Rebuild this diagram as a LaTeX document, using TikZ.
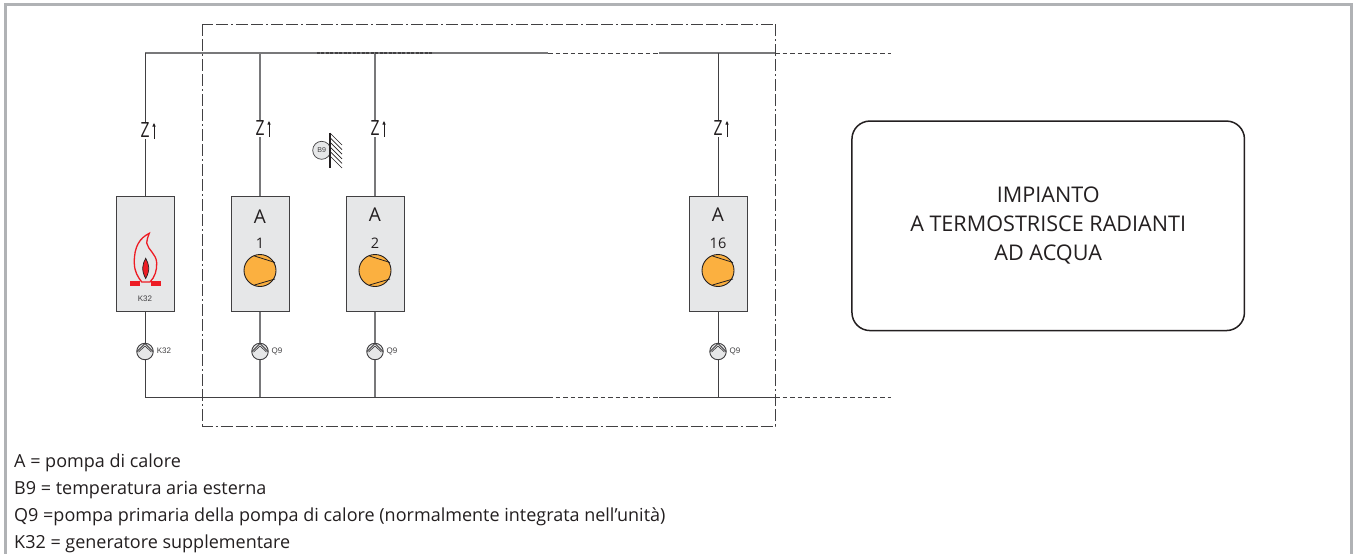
\documentclass[tikz,border=0pt]{standalone}
\usepackage{fontspec}
\setmainfont{Open Sans}
\newfontfamily\tagfont{Liberation Sans}
\usetikzlibrary{positioning,calc,arrows.meta}
\definecolor{framegray}{RGB}{176,178,181}
\definecolor{unitgray}{RGB}{230,231,232}
\definecolor{pumporange}{RGB}{251,176,64}
\definecolor{flamered}{RGB}{237,28,36}
\definecolor{linegray}{RGB}{65,64,66}
\definecolor{midgray}{RGB}{120,120,122}
\definecolor{textdark}{RGB}{35,31,32}
\tikzset{
  unit/.style={draw=linegray,fill=unitgray,line width=1pt,minimum width=58pt,minimum height=115pt,inner sep=0pt},
  pump/.style={draw=linegray,fill=unitgray,circle,line width=0.9pt,minimum size=16.5pt,inner sep=0pt},
  fan/.style={draw=textdark,fill=pumporange,circle,line width=0.9pt,minimum size=32pt,inner sep=0pt},
  pipe/.style={draw=linegray,line width=1pt},
  pipelight/.style={draw=midgray,line width=1.3pt},
  tag/.style={font=\tagfont\fontsize{8}{9}\selectfont,text=linegray,inner sep=0pt},
  legend/.style={font=\fontsize{18}{20}\selectfont,text=textdark,anchor=base west,inner sep=0pt},
  bigtext/.style={font=\fontsize{21.6}{29}\selectfont,text=textdark,align=center,inner sep=0pt}
}
\begin{document}
\begin{tikzpicture}[x=1pt,y=-1pt,node distance=115pt,on grid]
  \useasboundingbox (0,0) rectangle (1355,554);
  \fill[white] (0,0) rectangle (1355,554);
  \draw[framegray,line width=3pt] (5.8,560) -- (5.8,4.3) -- (1351.5,4.3) -- (1351.5,560);

  % units
  \node[unit] (k_32) at (145,253.5) {};
  \node[unit] (a_1) [right=of k_32] {};
  \node[unit] (a_2) [right=of a_1] {};
  \node[unit] (a_16) [right=343pt of a_2] {};

  % junctions
  \coordinate (top_k) at (145,53);
  \coordinate (top_1) at (260,53);
  \coordinate (top_2) at (375,53);
  \coordinate (top_16) at (718,53);
  \coordinate (bot_k) at (145,397);
  \coordinate (bot_1) at (260,397);
  \coordinate (bot_2) at (375,397);
  \coordinate (bot_16) at (718,397);
  \coordinate (top_gap) at (548,53);
  \coordinate (top_on) at (659,53);
  \coordinate (top_end) at (775,53);
  \coordinate (top_free) at (891,53);
  \coordinate (bot_gap) at (548,397);
  \coordinate (bot_on) at (659,397);
  \coordinate (bot_end) at (775,397);
  \coordinate (bot_free) at (891,397);
  \coordinate (dash_a) at (316.5,53);
  \coordinate (dash_b) at (432,53);

  % pumps
  \node[pump] (q_k) at (145,351.5) {};
  \node[pump] (q_1) at (260,351.5) {};
  \node[pump] (q_2) at (375,351.5) {};
  \node[pump] (q_16) at (718,351.5) {};

  \path[pipelight]
  (top_1) edge (a_1)
  (top_2) edge (a_2)
  (a_1) edge (q_1)
  (a_2) edge (q_2)
  (q_1) edge (bot_1)
  (q_2) edge (bot_2)
  (top_k) edge (top_gap)
  (top_on) edge (top_end)
  ;
  \path[pipe]
  (top_k) edge (k_32)
  (top_16) edge (a_16)
  (k_32) edge (q_k)
  (a_16) edge (q_16)
  (q_k) edge (bot_k)
  (q_16) edge (bot_16)
  (bot_k) edge (bot_gap)
  (bot_on) edge (bot_end)
  ;
  \path[pipe,dash pattern=on 4.5pt off 3pt]
  (top_gap) edge (top_on)
  (top_end) edge (top_free)
  (bot_gap) edge (bot_on)
  (bot_end) edge (bot_free)
  ;
  \path[pipe,line width=1.2pt,dash pattern=on 3pt off 1.5pt] (dash_a) edge (dash_b);

  % zone
  \draw[linegray,line width=1pt,dash pattern=on 12pt off 3pt on 12pt off 3pt on 2pt off 3pt] (202.5,24) rectangle (775.5,426);

  % impedance marks
  \foreach \x/\y/\nm in {145/130.5/k,260/128.5/1,375/128.5/2,718/128.5/16} {
    \node[fill=white,inner sep=0pt,minimum width=9pt,minimum height=16pt,font=\fontsize{21}{21}\selectfont,text=textdark] (z_\nm) at (\x,\y) {\scalebox{0.75}[1]{Z}};
    \draw[-{Latex[length=4pt,width=3.5pt]},textdark,line width=0.8pt] ($(z_\nm)+(9,8)$) -- ($(z_\nm)+(9,-8)$);
  }

  % unit contents
  \foreach \nm/\num/\ay in {1/1/21,2/2/19,16/16/19} {
    \node[font=\fontsize{19}{19}\selectfont,text=textdark,inner sep=0pt] (la_\nm) at ($(a_\nm.north)+(0,\ay)$) {A};
    \node[font=\fontsize{14.5}{15}\selectfont,text=textdark,inner sep=0pt] (ln_\nm) at ($(a_\nm.north)+(0,47.5)$) {\num};
    \node[fan] (f_\nm) at ($(a_\nm.north)+(0,75)$) {};
    \draw[textdark,line width=0.8pt] ($(f_\nm)+(-5.5,-14.5)$) -- ($(f_\nm)+(15,-8)$);
    \draw[textdark,line width=0.8pt] ($(f_\nm)+(-5.5,14.5)$) -- ($(f_\nm)+(15,8.5)$);
  }

  % pump wedges
  \foreach \nm in {k,1,2,16} {
    \draw[linegray,line width=0.9pt] ($(q_\nm)+(-8,0)$) -- ($(q_\nm)+(0,-8)$) -- ($(q_\nm)+(8,0)$);
    \draw[linegray,line width=0.7pt] ($(q_\nm)+(-6.5,0.5)$) -- ($(q_\nm)+(0,-5.5)$) -- ($(q_\nm)+(6.5,0.5)$);
  }
  \node[tag,anchor=west] (t_k) at (156.7,351) {K32};
  \node[tag,anchor=west] (t_1) at (271.5,351) {Q9};
  \node[tag,anchor=west] (t_2) at (386.5,351) {Q9};
  \node[tag,anchor=west] (t_16) at (729.5,351) {Q9};

  % burner
  \draw[flamered,line width=1.3pt,fill=unitgray] (149.3,233.3) .. controls (140,238) and (134,246) .. (134.3,263) .. controls (134.5,272) and (138,277) .. (141.7,282) -- (150,282) .. controls (155,277) and (157,270) .. (156.7,263) .. controls (156.5,254) and (148,250) .. (146.7,243) .. controls (146.5,240) and (148,237) .. (149.3,233.3) -- cycle;
  \draw[textdark,fill=flamered,line width=0.7pt] (145.7,258.3) .. controls (142.5,264) and (141,270) .. (145.7,278.5) .. controls (150.5,270) and (149,264) .. (145.7,258.3) -- cycle;
  \fill[flamered] (130,281) rectangle (140,285.7);
  \fill[flamered] (151,281) rectangle (161,285.7);
  \node[tag] (t_b) at (145,298.7) {K32};

  % sensor
  \node[pump,minimum size=18pt,line width=0.7pt] (b_9) at (321.7,150.3) {};
  \node[tag,font=\tagfont\fontsize{7.1}{8}\selectfont] (t_9) at (b_9) {B9};
  \draw[textdark,line width=1.2pt] (330,133) -- (330,168);
  \foreach \y in {133,137.6,142.2,146.8,151.4,156} {
    \draw[textdark,line width=0.7pt] (330,\y) -- (342,\y+12);
  }

  % plant
  \node[draw=textdark,rounded corners=18pt,line width=1.5pt,minimum width=392.5pt,minimum height=209.5pt] (plant) at (1048.2,225.8) {};
  \node[bigtext] (plant_txt) at (plant) {IMPIANTO\\A TERMOSTRISCE RADIANTI\\AD ACQUA};

  % legend
  \node[legend] (leg_a) at (14,467) {A = pompa di calore};
  \node[legend] (leg_b) at (14,494) {B9 = temperatura aria esterna};
  \node[legend] (leg_q) at (14,521) {Q9 =pompa primaria della pompa di calore (normalmente integrata nell'unità)};
  \node[legend] (leg_k) at (14,548) {K32 = generatore supplementare};
\end{tikzpicture}
\end{document}
